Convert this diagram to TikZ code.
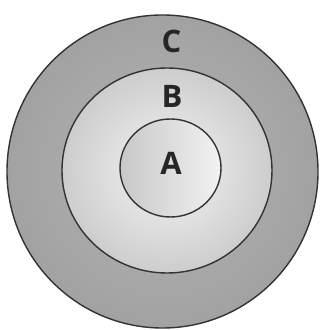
\documentclass[tikz,border=0pt]{standalone}
\usepackage{fontspec}
\setmainfont{Open Sans}
\begin{document}
\begin{tikzpicture}[x=1pt,y=1pt,
  ring/.style={draw=black!80, line width=1.4pt},
  lbl/.style={font=\bfseries\fontsize{31}{31}\selectfont, text=black!85, inner sep=0pt}]
\useasboundingbox (0,0) rectangle (323,330);
\fill[white] (0,0) rectangle (323,330);
% outer C
\path[ring, shading=radial, inner color={rgb,255:red,180;green,180;blue,180}, outer color={rgb,255:red,162;green,162;blue,162}]
  (162.5,158.5) ellipse [x radius=155.5, y radius=156.5];
% middle B
\path[ring, shading=radial, inner color={rgb,255:red,244;green,244;blue,244}, outer color={rgb,255:red,205;green,205;blue,205}]
  (167,159.5) ellipse [x radius=105, y radius=102.5];
% inner A
\path[ring, left color={rgb,255:red,200;green,200;blue,200}, right color={rgb,255:red,242;green,242;blue,242}]
  (170.5,162) ellipse [x radius=50.5, y radius=49];
\node[lbl] (C) at (171.5,289) {C};
\node[lbl] (B) at (172,234) {B};
\node[lbl] (A) at (171,166.5) {A};
\end{tikzpicture}
\end{document}
